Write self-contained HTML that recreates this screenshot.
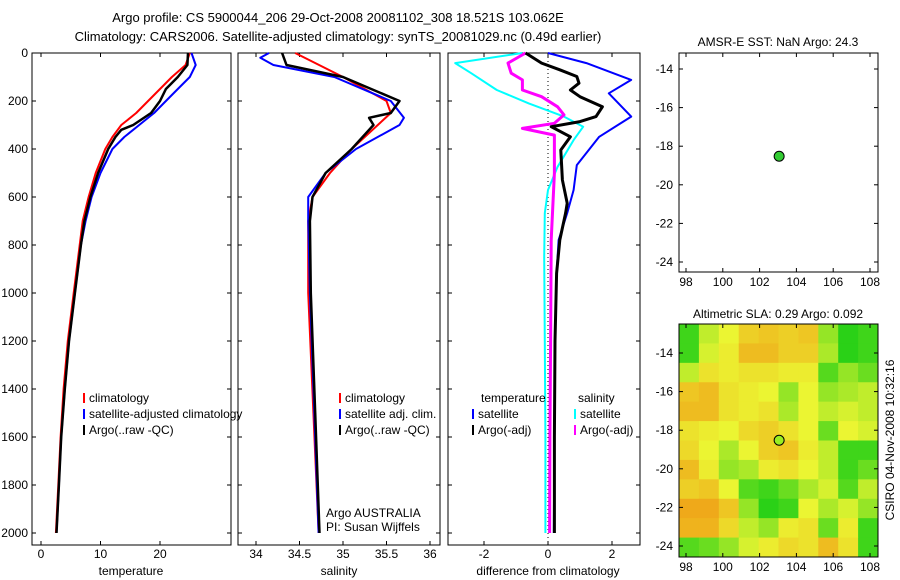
<!DOCTYPE html>
<html><head><meta charset="utf-8">
<style>
body{margin:0;background:#fff;}
svg{display:block;font-family:"Liberation Sans",sans-serif;font-size:12px;}
</style></head>
<body>
<svg id="fig" width="900" height="580" viewBox="0 0 900 580">
<text x="338" y="22" text-anchor="middle" font-size="13">Argo profile: CS 5900044_206 29-Oct-2008 20081102_308 18.521S 103.062E</text>
<text x="338" y="41" text-anchor="middle" font-size="13">Climatology: CARS2006. Satellite-adjusted climatology: synTS_20081029.nc (0.49d earlier)</text>
</svg>
<script>
// ---- data ----
const depthTempClim=[0,50,100,150,200,250,300,350,400,500,600,700,800,1000,1200,1400,1600,1800,2000];
const tempClim=[25,24.3,22,20,18,16,13.5,12,10.8,9.2,8,7,6.5,5.5,4.5,3.8,3.3,2.9,2.5];
const depthTempSat=[0,50,100,150,200,250,300,350,400,500,600,700,800,1000,1200,1400,1600,1800,2000];
const tempSat=[25.3,26,25,23,21,19,16.5,14,12,10,8.5,7.5,6.7,5.7,4.7,4,3.4,3,2.6];
const depthTempArgo=[0,50,100,150,200,250,300,320,350,400,500,600,700,800,1000,1200,1400,1600,1800,2000];
const tempArgo=[24.7,24.6,23,21,20,18.5,15.5,13.5,12.5,11.3,9.6,8.3,7.3,6.7,5.7,4.7,4,3.4,3,2.6];

const depthSalClim=[0,100,200,250,300,400,500,600,700,1000,1500,2000];
const salClim=[34.45,35.0,35.5,35.55,35.4,35.1,34.85,34.65,34.6,34.6,34.66,34.72];
const depthSalSat=[0,20,50,100,200,270,300,400,500,600,700,1000,1500,2000];
const salSat=[34.15,34.05,34.2,34.9,35.55,35.7,35.65,35.15,34.8,34.6,34.6,34.62,34.67,34.72];
const depthSalArgo=[0,50,100,200,250,270,300,400,500,600,700,1000,1500,2000];
const salArgo=[34.3,34.35,35.0,35.65,35.55,35.3,35.35,35.1,34.8,34.65,34.62,34.63,34.68,34.73];

const depthDiffTSat=[0,42,112,168,265,349,467,571,667,779,918,1200,1600,2000];
const diffTSat=[0,1.2,2.6,1.9,2.6,1.6,0.9,0.8,0.6,0.33,0.27,0.22,0.2,0.18];
const depthDiffTArgo=[0,42,70,98,126,154,182,224,265,286,307,349,404,529,626,667,779,918,1200,1600,2000];
const diffTArgo=[-0.7,-0.2,0.37,0.9,0.97,0.7,1.0,1.7,1.5,1.0,0.1,0.7,0.4,0.45,0.6,0.55,0.37,0.27,0.22,0.2,0.2];
const depthDiffSSat=[0,42,84,154,210,265,307,363,474,571,667,849,1200,1600,2000];
const diffSSat=[-0.8,-2.9,-2.4,-1.6,-0.6,0.5,1.1,0.8,0.3,0,-0.1,-0.12,-0.1,-0.08,-0.08];
const depthDiffSArgo=[0,42,84,112,154,182,224,258,293,314,342,501,779,1200,1600,2000];
const diffSArgo=[-0.7,-1.25,-1.15,-0.8,-0.8,-0.2,0.3,0.5,0.2,-0.8,0.2,0.2,0.1,0.08,0.06,0.05];

const depthTicks=[0,200,400,600,800,1000,1200,1400,1600,1800,2000];
const tempTicks=[0,10,20];
const salTicks=[34,34.5,35,35.5,36];
const diffTicks=[-2,0,2];
const lonTicks=[98,100,102,104,106,108];
const latTicks=[-14,-16,-18,-20,-22,-24];
const argoLon=[103.062];
const argoLat=[-18.521];
// SLA grid, rows north->south, cols west->east (0=green,1=orange)
const slaGrid=[
[0.1,0.4,0.5,0.7,0.75,0.7,0.75,0.3,0.05,0.1],
[0.1,0.45,0.55,0.8,0.8,0.7,0.7,0.35,0.05,0.1],
[0.4,0.6,0.55,0.6,0.6,0.55,0.55,0.15,0.3,0.2],
[0.75,0.8,0.6,0.55,0.5,0.3,0.5,0.3,0.35,0.4],
[0.8,0.8,0.6,0.55,0.6,0.35,0.5,0.4,0.45,0.4],
[0.6,0.55,0.5,0.65,0.7,0.6,0.5,0.2,0.5,0.45],
[0.65,0.5,0.35,0.5,0.7,0.75,0.55,0.4,0.1,0.1],
[0.8,0.55,0.3,0.35,0.55,0.6,0.5,0.4,0.1,0.2],
[0.7,0.75,0.5,0.15,0.1,0.2,0.35,0.45,0.15,0.4],
[0.9,0.9,0.75,0.3,0.05,0.1,0.5,0.35,0.45,0.3],
[0.85,0.85,0.65,0.4,0.3,0.55,0.6,0.2,0.55,0.1],
[0.15,0.2,0.3,0.45,0.55,0.65,0.6,0.8,0.6,0.1]];

const NS='http://www.w3.org/2000/svg';
const svg=document.getElementById('fig');
function mk(tag,attrs,parent){const e=document.createElementNS(NS,tag);for(const k in attrs)e.setAttribute(k,attrs[k]);(parent||svg).appendChild(e);return e;}
function txt(x,y,s,anchor,parent){const t=mk('text',{x:x,y:y,'text-anchor':anchor||'start'},parent);t.textContent=s;return t;}

const yD=d=>53+d*0.24;
const xT=v=>41+v*5.95;
const xS=v=>256+(v-34)*87;
const xDf=v=>548+v*32;

function panel(name,x0,x1,y0,y1){
  const g=mk('g',{});
  
  
  const r=mk('rect',{x:x0,y:y0,width:x1-x0,height:y1-y0,fill:'none',stroke:'#000','stroke-width':1},g);
  
  
  return g;
}
function line(g,xs,ys,fx,color,w,name){
  const p=xs.map((v,i)=>fx(v).toFixed(1)+','+yD(ys[i]).toFixed(1)).join(' ');
  const l=mk('polyline',{points:p,fill:'none',stroke:color,'stroke-width':w,'stroke-linejoin':'round'},g);
  
  
}
function xticks(g,ticks,fx,y0,y1,labels){
  ticks.forEach(t=>{
    const x=fx(t);
    mk('line',{x1:x,y1:y1,x2:x,y2:y1-4,stroke:'#000'},g);
    mk('line',{x1:x,y1:y0,x2:x,y2:y0+4,stroke:'#000'},g);
    if(labels){const tx=txt(x,y1+13,String(t),'middle',g);
      
      }
  });
}
function yticks(g,x0,x1,lab){
  depthTicks.forEach(d=>{
    const y=yD(d);
    mk('line',{x1:x0,y1:y,x2:x0+4,y2:y,stroke:'#000'},g);
    mk('line',{x1:x1,y1:y,x2:x1-4,y2:y,stroke:'#000'},g);
    if(lab){const t=txt(x0-4,y+4,String(d),'end',g);
      
      }
  });
}
function legItem(g,x,y,color,label){
  mk('line',{x1:x,y1:y-9,x2:x,y2:y+1,stroke:color,'stroke-width':2},g);
  const t=txt(x+5,y,label,'start',g);
  
  
}

// Panel 1 temperature
const p1=panel('temperature-panel',32,231,53,545);
yticks(p1,32,231,true);
xticks(p1,tempTicks,xT,53,545,true);
line(p1,tempClim,depthTempClim,xT,'#f00',2,'temp-climatology-line');
line(p1,tempSat,depthTempSat,xT,'#00f',2,'temp-satellite-line');
line(p1,tempArgo,depthTempArgo,xT,'#000',2.5,'temp-argo-line');
{const t=txt(131,575,'temperature','middle',p1);}
legItem(p1,84,402,'#f00','climatology');
legItem(p1,84,418,'#00f','satellite-adjusted climatology');
legItem(p1,84,434,'#000','Argo(..raw -QC)');

// Panel 2 salinity
const p2=panel('salinity-panel',238,440,53,545);
yticks(p2,238,440,false);
xticks(p2,salTicks,xS,53,545,true);
line(p2,salClim,depthSalClim,xS,'#f00',2,'sal-climatology-line');
line(p2,salSat,depthSalSat,xS,'#00f',2,'sal-satellite-line');
line(p2,salArgo,depthSalArgo,xS,'#000',2.5,'sal-argo-line');
{const t=txt(339,575,'salinity','middle',p2);}
legItem(p2,340,402,'#f00','climatology');
legItem(p2,340,418,'#00f','satellite adj. clim.');
legItem(p2,340,434,'#000','Argo(..raw -QC)');
{const t=txt(326,517,'Argo AUSTRALIA','start',p2);
 const u=txt(326,531,'PI: Susan Wijffels','start',p2);}

// Panel 3 difference
const p3=panel('difference-panel',448,640,53,545);
yticks(p3,448,640,false);
xticks(p3,diffTicks,xDf,53,545,true);
{const z=mk('line',{x1:xDf(0),y1:53,x2:xDf(0),y2:545,stroke:'#000','stroke-dasharray':'1,3'},p3);}
line(p3,diffSSat,depthDiffSSat,xDf,'#0ff',2,'diff-sal-satellite-line');
line(p3,diffSArgo,depthDiffSArgo,xDf,'#f0f',3,'diff-sal-argo-line');
line(p3,diffTSat,depthDiffTSat,xDf,'#00f',2,'diff-temp-satellite-line');
line(p3,diffTArgo,depthDiffTArgo,xDf,'#000',3,'diff-temp-argo-line');
{const t=txt(548,575,'difference from climatology','middle',p3);}
{const t=txt(481,402,'temperature','start',p3);
 const u=txt(578,402,'salinity','start',p3);}
legItem(p3,473,418,'#00f','satellite');
legItem(p3,473,434,'#000','Argo(-adj)');
legItem(p3,575,418,'#0ff','satellite');
legItem(p3,575,434,'#f0f','Argo(-adj)');

// Map helpers
const mx=lon=>686+(lon-98)*18.4;
function mapAxes(g,y0,y1,fy){
  lonTicks.forEach(l=>{const x=mx(l);
    mk('line',{x1:x,y1:y1,x2:x,y2:y1-4,stroke:'#000'},g);mk('line',{x1:x,y1:y0,x2:x,y2:y0+4,stroke:'#000'},g);
    const t=txt(x,y1+14,String(l),'middle',g);});
  latTicks.forEach(l=>{const y=fy(l);
    mk('line',{x1:679,y1:y,x2:683,y2:y,stroke:'#000'},g);mk('line',{x1:878,y1:y,x2:874,y2:y,stroke:'#000'},g);
    const t=txt(673,y+4,String(l),'end',g);});
}
// SST map
const m1=panel('sst-map',679,878,53,272);
const fy1=lat=>69+(-14-lat)*19.3;
mapAxes(m1,53,272,fy1);
{const t=txt(778,46,'AMSR-E SST: NaN Argo: 24.3','middle',m1);}
argoLon.forEach((lo,i)=>{const c=mk('circle',{cx:mx(lo),cy:fy1(argoLat[i]),r:5,fill:'#3c3',stroke:'#000'},m1);
  });

// SLA map
const m2=mk('g',{});


function slaColor(v){
  const g0=[20,205,20],y=[235,245,50],o=[240,150,20];
  let a,b,t;if(v<0.5){a=g0;b=y;t=v/0.5;}else{a=y;b=o;t=(v-0.5)/0.5;}
  return 'rgb('+a.map((c,i)=>Math.round(c+(b[i]-c)*t)).join(',')+')';
}
const rows=slaGrid.length,cols=slaGrid[0].length;
const cw=(878-679)/cols,ch=(557-324)/rows;
slaGrid.forEach((row,r)=>row.forEach((v,c)=>{
  const cell=mk('rect',{x:679+c*cw,y:324+r*ch,width:cw+0.5,height:ch+0.5,fill:slaColor(v)},m2);
  
  
}));
{const f=mk('rect',{x:679,y:324,width:199,height:233,fill:'none',stroke:'#000'},m2);}
const fy2=lat=>353+(-14-lat)*19.3;
mapAxes(m2,324,557,fy2);
{const t=txt(778,318,'Altimetric SLA: 0.29 Argo: 0.092','middle',m2);}
argoLon.forEach((lo,i)=>{const c=mk('circle',{cx:mx(lo),cy:fy2(argoLat[i]),r:5,fill:'#9e2',stroke:'#000'},m2);
  });
{const t=txt(0,0,'CSIRO 04-Nov-2008 10:32:16','middle');t.setAttribute('transform','translate(894,440) rotate(-90)');
 }
</script>
</body></html>
